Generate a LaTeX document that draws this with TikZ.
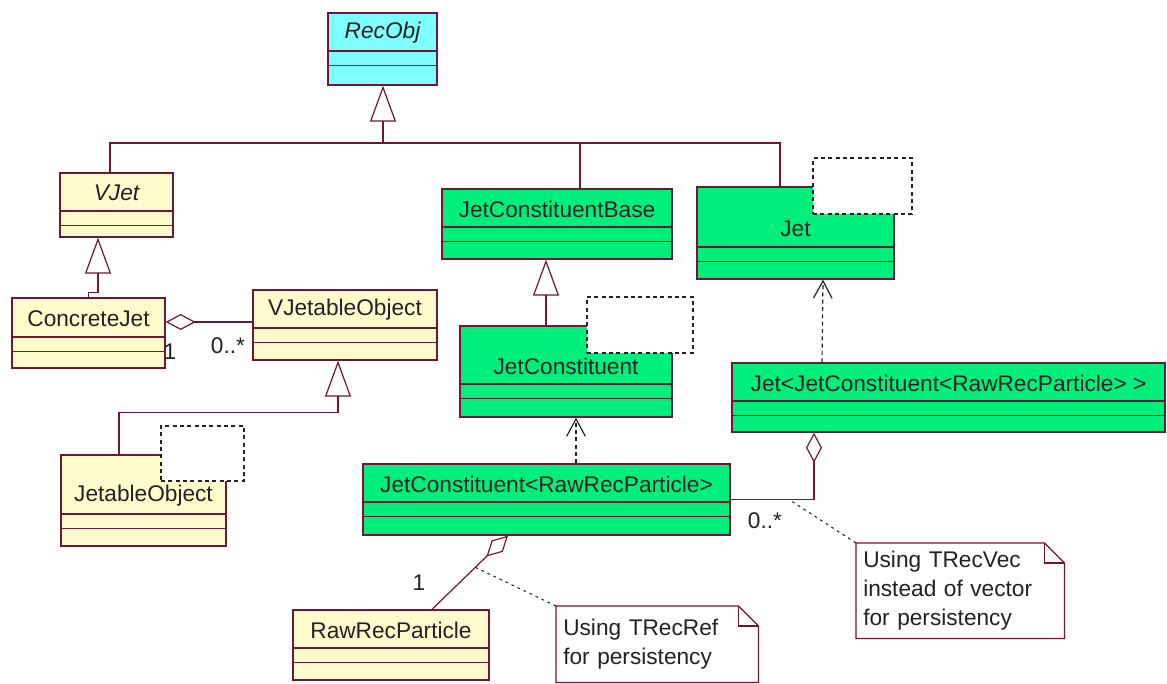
\documentclass[tikz,border=0pt]{standalone}
\usepackage{fontspec}
\setmainfont{Liberation Sans}
\usepackage{tikz}
\usetikzlibrary{arrows.meta,positioning,fit,calc}
\definecolor{cRose}{HTML}{6E1836}
\definecolor{cCyan}{HTML}{80FFFF}
\definecolor{cGreen}{HTML}{00EE7C}
\definecolor{cCream}{HTML}{FFFBCC}
\definecolor{cInk}{HTML}{222222}
\tikzset{
  cls/.style   = {rectangle, draw=cRose, fill=#1, line width=1pt, inner sep=0pt},
  cls/.default = cCream,
  rec/.style   = {cls=cCyan},
  grn/.style   = {cls=cGreen},
  yel/.style   = {cls=cCream},
  tpl/.style   = {rectangle, draw=cInk, fill=white, line width=0.9pt, inner sep=0pt,
                  dash pattern=on 3pt off 2.5pt},
  sepl/.style  = {draw=cRose, line width=1pt},
  txt/.style   = {font=\fontsize{17}{20}\selectfont, inner sep=0pt, text=cInk},
  wire/.style  = {draw=cRose, line width=0.9pt},
  inh/.style   = {wire, -{Triangle[open, length=27pt, width=19.5pt]}},
  agg/.style   = {wire, {Diamond[open, length=22.5pt, width=12pt]}-},
  dep/.style   = {draw=cInk, line width=0.9pt, dash pattern=on 3pt off 2.5pt,
                  -{Straight Barb[length=13pt, width=14pt]}},
  lnk/.style   = {draw=cInk, line width=0.8pt, dash pattern=on 2pt off 3pt},
  note/.style  = {rectangle, anchor=north west, align=left, inner sep=5.25pt,
                  font=\fontsize{17}{22}\selectfont, text=cInk},
  mult/.style  = {txt},
}
% style, name, left, top, right, first separator, bottom, text
\newcommand{\umlclass}[8]{%
  \node[#1, fit={(#3,#4) (#5,#7)}] (#2) {};
  \draw[sepl] (#3,#6) -- (#5,#6);
  \draw[sepl] (#3,{#6+14.5}) -- (#5,{#6+14.5});
  \node[txt] (#2-name) at ({(#3+#5)/2},{#6-18}) {#8};}

\begin{document}
\begin{tikzpicture}[x=0.75pt, y=-0.75pt]
  \path[fill=white] (0,0) rectangle (1167,684);

  \umlclass{rec}{recobj}{328}{13}{437}{51}{85}{\itshape RecObj}
  \umlclass{yel}{vjet}{60}{173}{173}{211}{237}{\itshape VJet}
  \umlclass{yel}{cjet}{12}{298}{165}{337}{368}{ConcreteJet}
  \umlclass{yel}{vjo}{253}{290}{437}{328}{360}{VJetableObject}
  \umlclass{yel}{jo}{61}{455}{226}{514}{546}{JetableObject}
  \umlclass{grn}{jcb}{442}{189}{672}{227}{259}{JetConstituentBase}
  \umlclass{grn}{jc}{460}{326}{672}{384}{417}{JetConstituent}
  \umlclass{grn}{jet}{697}{187}{894}{247}{279}{Jet}
  \umlclass{grn}{jcrrp}{363}{464}{730}{502}{535}{JetConstituent<RawRecParticle>}
  \umlclass{grn}{jett}{732}{363}{1165}{401}{432}{Jet<JetConstituent<RawRecParticle> >}
  \umlclass{yel}{rrp}{293}{610}{489}{648}{680}{RawRecParticle}

  \node[tpl, fit={(161,426) (244,481)}] (jo-tpl) {};
  \node[tpl, fit={(587,297) (693,353)}] (jc-tpl) {};
  \node[tpl, fit={(813,158) (912,214)}] (jet-tpl) {};

  \coordinate (hub) at (383,143);
  \draw[inh] (hub) -- (hub |- recobj.south);
  \draw[wire] ($(vjet.north)+(-6.5,0)$) |- (hub);
  \draw[wire] ($(jcb.north)+(23,0)$) |- (hub);
  \draw[wire] ($(jet.north)+(-15.5,0)$) |- (hub);

  \draw[inh] (cjet.north) -- ++(0,-5) -| ($(vjet.south)+(-18.5,0)$);
  \draw[inh] ($(jo.north)+(-24.5,0)$) -- ++(0,-42) -| ($(vjo.south)+(-7,0)$);
  \draw[inh] ($(jc.north)+(-20,0)$) -- ($(jcb.south)+(-11,0)$);
  \draw[agg] ($(cjet.east)+(0,-11)$) -- ($(vjo.west)+(0,-3)$);

  \draw[dep] ($(jcrrp.north)+(29.5,0)$) -- ($(jc.south)+(10,0)$);
  \draw[dep] ($(jett.north)+(-126.5,0)$) -- ($(jet.south)+(27.5,0)$);
  \draw[agg] ($(jett.south)+(-134.5,0)$) |- coordinate[pos=0.65] (agg2mid) (jcrrp.east);
  \draw[agg] ($(jcrrp.south)+(-38.5,0)$) -- coordinate[pos=0.43] (agg1mid) ($(rrp.north)+(41,0)$);

  \node[mult] (m1) at (170,352) {1};
  \node[mult] (m2) at (228,346) {0..*};
  \node[mult] (m3) at (765,521) {0..*};
  \node[mult] (m4) at (419,583) {1};

  \node[note, text width=141pt, minimum height=57pt] (note1) at (556,606)
    {Using TRecRef\\for persistency};
  \node[note, text width=145.5pt, minimum height=71.25pt] (note2) at (856,543)
    {Using TRecVec\\instead of vector\\for persistency};
  \foreach \n in {note1,note2} {
    \draw[wire] (\n.north west) -- ([xshift=-15pt]\n.north east)
      -- ([yshift=-15pt]\n.north east) -- (\n.south east) -- (\n.south west) -- cycle;
    \draw[wire] ([xshift=-15pt]\n.north east) |- ([yshift=-15pt]\n.north east);
  }
  \draw[lnk] (note1.north west) -- (agg1mid);
  \draw[lnk] (note2.north west) -- (agg2mid);
\end{tikzpicture}
\end{document}
